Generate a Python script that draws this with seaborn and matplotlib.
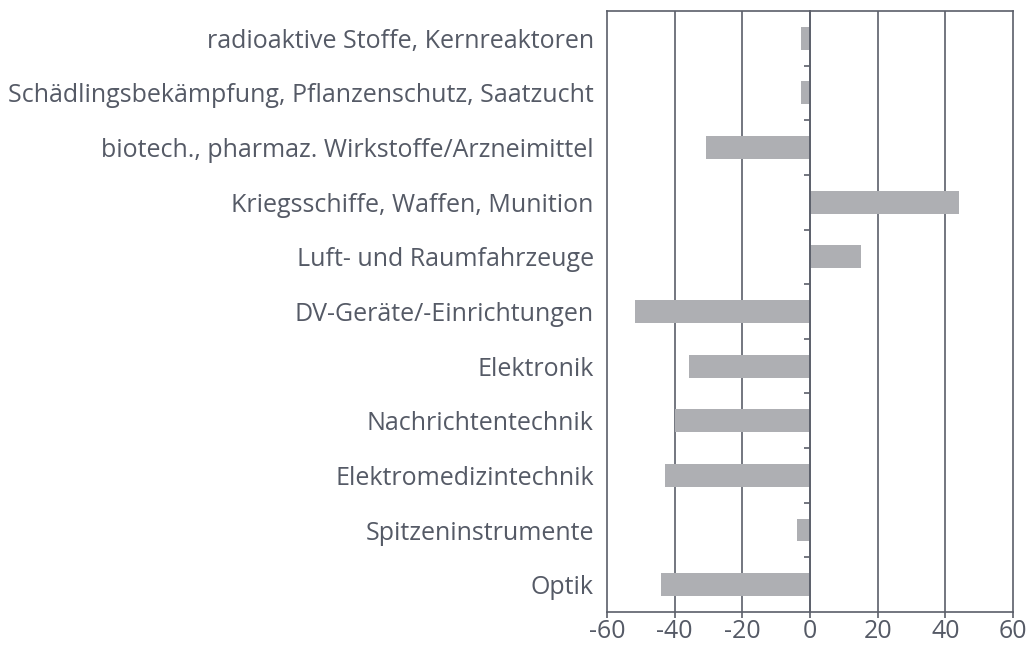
import pandas as pd
import matplotlib
import matplotlib.pyplot as plt
import seaborn as sns

categories = ['radioaktive Stoffe, Kernreaktoren',
              'Schädlingsbekämpfung, Pflanzenschutz, Saatzucht',
              'biotech., pharmaz. Wirkstoffe/Arzneimittel',
              'Kriegsschiffe, Waffen, Munition',
              'Luft- und Raumfahrzeuge',
              'DV-Geräte/-Einrichtungen',
              'Elektronik',
              'Nachrichtentechnik',
              'Elektromedizintechnik',
              'Spitzeninstrumente',
              'Optik']
values = [-2.7, -2.7, -30.7, 44.0, 15.1, -51.7, -35.8, -39.9, -42.9, -3.8, -44.0]
x_ticks = [-60, -40, -20, 0, 20, 40, 60]

df = pd.DataFrame({'Kategorie': categories, 'Wert': values})

sns.set_style('white')
plt.rcParams['font.family'] = ['Open Sans', 'DejaVu Sans']
line_col = '#5b5f6a'
text_col = '#555a66'

fig = plt.figure(figsize=(10.31, 6.45), dpi=100)
ax = fig.add_axes([0.5888, 0.0512, 0.3937, 0.9318])

sns.barplot(df, x='Wert', y='Kategorie', orient='h', color='#aeafb3',
            width=0.42, saturation=1, linewidth=0, ax=ax)

ax.set_xlim(-60, 60)
ax.set_ylim(len(categories) - 0.5, -0.5)
ax.set_xticks(x_ticks)
ax.set_xticklabels([str(t) for t in x_ticks])
ax.set_xlabel('')
ax.set_ylabel('')

for t in [-40, -20, 20, 40]:
    ax.axvline(t, color=line_col, lw=1.2, zorder=0)

for s in ax.spines.values():
    s.set_color(line_col)
    s.set_linewidth(1.2)

ax.tick_params(axis='x', bottom=True, length=4, width=1.2, color=line_col,
               labelsize=18, labelcolor=text_col, pad=1)
ax.tick_params(axis='y', left=False, labelsize=18, labelcolor=text_col, pad=6)

# zero axis with tick marks between the categories
zero = ax.secondary_yaxis(0.5)
zero.set_yticks([i + 0.5 for i in range(len(categories) - 1)])
zero.set_yticklabels([])
zero.yaxis.set_ticks_position('left')
zero.tick_params(axis='y', length=4, width=1.2, color=line_col, direction='out')
for side in ['left', 'right']:
    zero.spines[side].set_visible(True)
    zero.spines[side].set_color(line_col)
    zero.spines[side].set_linewidth(1.2)
zero.set_zorder(5)

fig.savefig('out.png', dpi=100)
